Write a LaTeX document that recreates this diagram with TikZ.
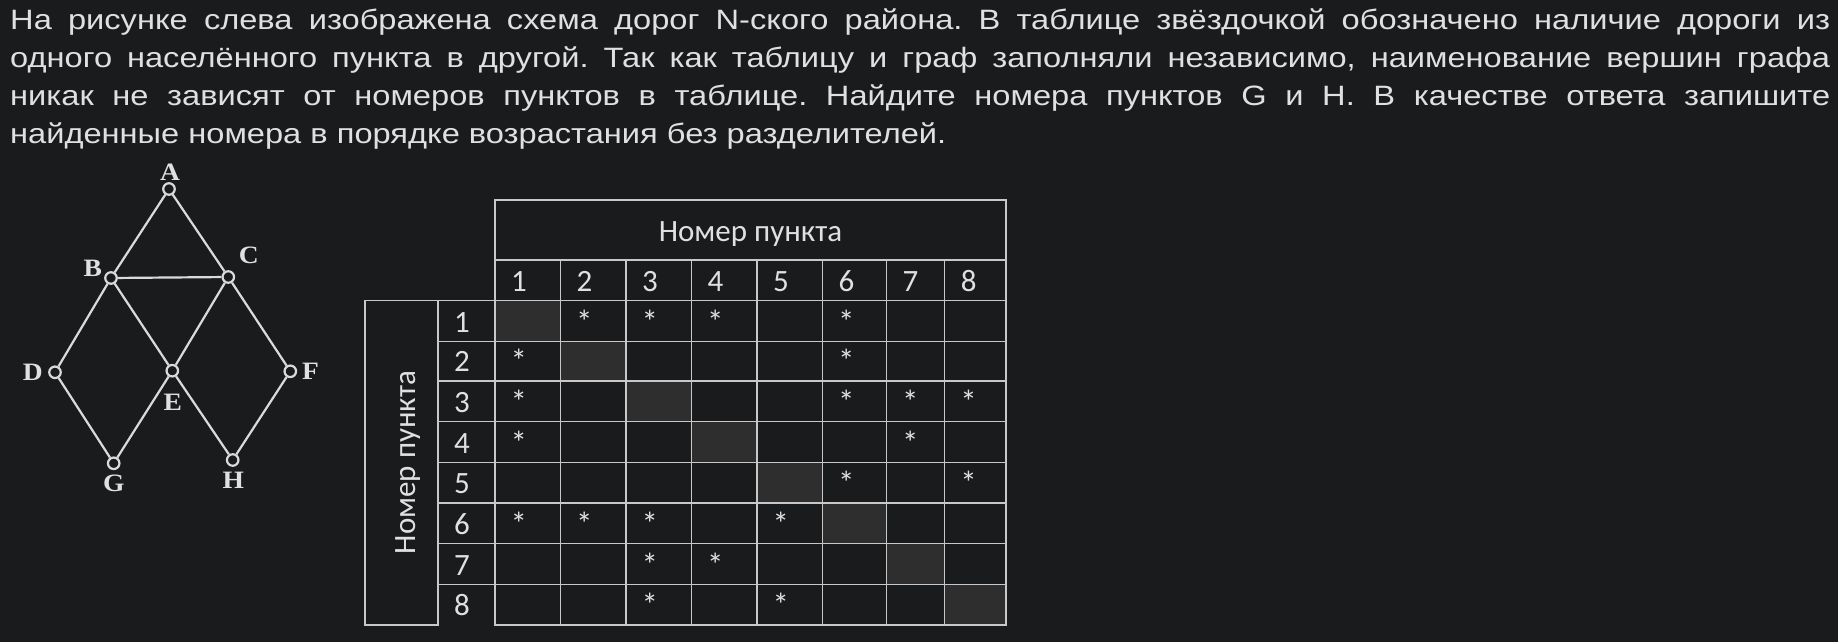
\documentclass[tikz,border=0pt]{standalone}
\usepackage{fontspec}
\setmainfont{Liberation Sans}
\newfontfamily\bodyfont[FakeStretch=1.165]{Liberation Sans}
\newfontfamily\tabfont{Carlito}
\newfontfamily\graphfont[FakeStretch=1.1]{Liberation Serif}
\definecolor{bg}{RGB}{26,27,29}
\definecolor{fg}{RGB}{224,224,224}
\definecolor{gline}{RGB}{218,218,218}
\definecolor{tline}{RGB}{200,200,200}
\definecolor{diag}{RGB}{46,46,46}
\begin{document}
\frenchspacing
\begin{tikzpicture}[x=1pt,y=-1pt,
  txt/.style={anchor=base west, inner sep=0pt, text=fg, font=\bodyfont\fontsize{28}{34}\selectfont},
  vtx/.style={circle, draw=gline, fill=bg, line width=2.2pt, minimum size=11.5pt, inner sep=0pt},
  edge/.style={draw=gline, line width=2.2pt},
  vlab/.style={inner sep=0pt, text=fg, font=\graphfont\bfseries\fontsize{25}{25}\selectfont},
  grid/.style={draw=tline, line width=1.4pt},
  tab/.style={inner sep=0pt, text=fg, font=\tabfont\fontsize{31}{31}\selectfont},
  star/.style={inner sep=0pt, text=fg, font=\tabfont\fontsize{33}{33}\selectfont},
  diagcell/.style={fill=diag}
]
\fill[bg] (0,0) rectangle (1838,642);
\useasboundingbox (0,0) rectangle (1838,642);

% text
\node[txt] (l1) at (10,30) {\makebox[1820pt][s]{На рисунке слева изображена схема дорог N-ского района. В таблице звёздочкой обозначено наличие дороги из}};
\node[txt] (l2) at (10,67.8) {\makebox[1820pt][s]{одного населённого пункта в другой. Так как таблицу и граф заполняли независимо, наименование вершин графа}};
\node[txt] (l3) at (10,105.5) {\makebox[1820pt][s]{никак не зависят от номеров пунктов в таблице. Найдите номера пунктов G и H. В качестве ответа запишите}};
\node[txt] (l4) at (10,143.3) {найденные номера в порядке возрастания без разделителей.};

% graph
\node[vtx] (A) at (169,189) {};
\node[vtx] (B) at (111,278) {};
\node[vtx] (C) at (228.3,277) {};
\node[vtx] (D) at (55,372.3) {};
\node[vtx] (E) at (172.3,370.7) {};
\node[vtx] (F) at (290.3,371.3) {};
\node[vtx] (G) at (113.7,463.3) {};
\node[vtx] (H) at (232.7,460) {};
\foreach \a/\b in {A/B,A/C,B/C,B/D,B/E,C/E,C/F,D/G,E/G,E/H,F/H}
  \draw[edge] (\a) -- (\b);
\node[vlab] (lA) at (170,172.2) {A};
\node[vlab] (lB) at (92.7,268.3) {B};
\node[vlab] (lC) at (248.8,255.5) {C};
\node[vlab] (lD) at (32.8,372.3) {D};
\node[vlab] (lE) at (172.7,402.2) {E};
\node[vlab] (lF) at (310.5,371.3) {F};
\node[vlab] (lG) at (113.7,483.8) {G};
\node[vlab] (lH) at (233.3,480.5) {H};

% table
\def\colx{{495,560.3,626,691.3,756.8,822.3,886.3,944.7,1006}}
\def\rowy{{300.7,341.3,381,421.3,462.3,503,543.7,584.3,625}}
\foreach \i in {1,...,8} {
  \pgfmathsetmacro\xa{\colx[\i-1]}
  \pgfmathsetmacro\xb{\colx[\i]}
  \pgfmathsetmacro\ya{\rowy[\i-1]}
  \pgfmathsetmacro\yb{\rowy[\i]}
  \fill[diagcell] (\xa,\ya) rectangle (\xb,\yb);
}
\draw[grid] (495,200) rectangle (1006,625);
\draw[grid] (495,260) -- (1006,260);
\draw[grid] (365,300.7) rectangle (438,625);
\draw[grid] (438,300.7) -- (1006,300.7);
\foreach \j in {1,...,7} {
  \pgfmathsetmacro\yy{\rowy[\j]}
  \draw[grid] (438,\yy) -- (1006,\yy);
}
\foreach \j in {1,...,7} {
  \pgfmathsetmacro\xx{\colx[\j]}
  \draw[grid] (\xx,260) -- (\xx,625);
}
\node[tab, anchor=base] (hdr) at (750.5,241.7) {Номер пункта};
\node[tab, anchor=base, rotate=90] (vhdr) at (415,462.5) {Номер пункта};
\foreach \i in {1,...,8} {
  \pgfmathsetmacro\xx{\colx[\i-1]+16}
  \pgfmathsetmacro\yy{\rowy[\i]-9.3}
  \node[tab, anchor=base west] (c\i) at (\xx,291.7) {\i};
  \node[tab, anchor=base west] (r\i) at (454,\yy) {\i};
}
\foreach \r/\c in {1/2,1/3,1/4,1/6,2/1,2/6,3/1,3/6,3/7,3/8,4/1,4/7,5/6,5/8,6/1,6/2,6/3,6/5,7/3,7/4,8/3,8/5} {
  \pgfmathsetmacro\xx{\colx[\c-1]+15.5}
  \pgfmathsetmacro\yy{\rowy[\r]-8.3}
  \node[star, anchor=base west] (s\r-\c) at (\xx,\yy) {*};
}
\end{tikzpicture}
\end{document}
